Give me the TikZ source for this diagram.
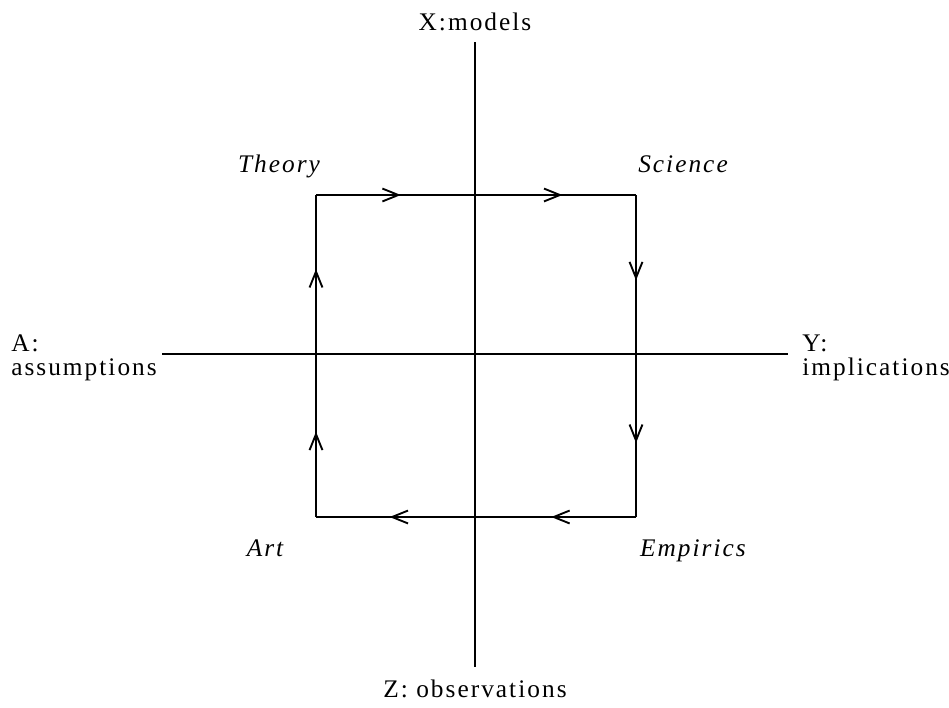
\documentclass[tikz,border=0pt]{standalone}
\usepackage{fontspec}
\setmainfont{Liberation Serif}[LetterSpace=8]
\usetikzlibrary{arrows.meta,decorations.markings}

\begin{document}
\begin{tikzpicture}[
 x=0.75pt,y=-0.75pt,
 axis/.style={line width=1.5pt},
 lbl/.style={font=\fontsize{19}{18}\selectfont,inner sep=0pt},
 corner/.style={lbl,anchor=base,font=\fontsize{19}{18}\selectfont\itshape},
 flow/.style={line width=1.5pt,decoration={markings,
 mark=at position 0.265 with {\arrow{Straight Barb[length=4.2mm,width=3.4mm,line width=1.4pt]}},
 mark=at position 0.77 with {\arrow{Straight Barb[length=4.2mm,width=3.4mm,line width=1.4pt]}}},
 postaction={decorate}}]
\useasboundingbox (0,0) rectangle (949,707);
% axes
\coordinate (xt) at (475,42);
\coordinate (zb) at (475,667);
\coordinate (al) at (162,354);
\coordinate (yr) at (788,354);
\draw[axis] (xt)--(zb);
\draw[axis] (al)--(yr);
\node[lbl,anchor=base] (x) at (475,30) {X:models};
\node[lbl,anchor=base] (z) at (475,697) {Z: observations};
\node[lbl,anchor=north west,align=left] (a) at (11,335) {A:\\assumptions};
\node[lbl,anchor=north west,align=left] (y) at (802,335) {Y:\\implications};
% the cycle
\coordinate (tl) at (316,195);
\coordinate (tr) at (636,195);
\coordinate (br) at (636,517);
\coordinate (bl) at (316,517);
\draw[flow] (tl)--(tr);
\draw[flow] (tr)--(br);
\draw[flow] (br)--(bl);
\draw[flow] (bl)--(tl);
\node[corner] (th) at (279,172) {Theory};
\node[corner] (sc) at (683,172) {Science};
\node[corner] (ar) at (265,556) {Art};
\node[corner] (em) at (693,556) {Empirics};
\end{tikzpicture}
\end{document}
